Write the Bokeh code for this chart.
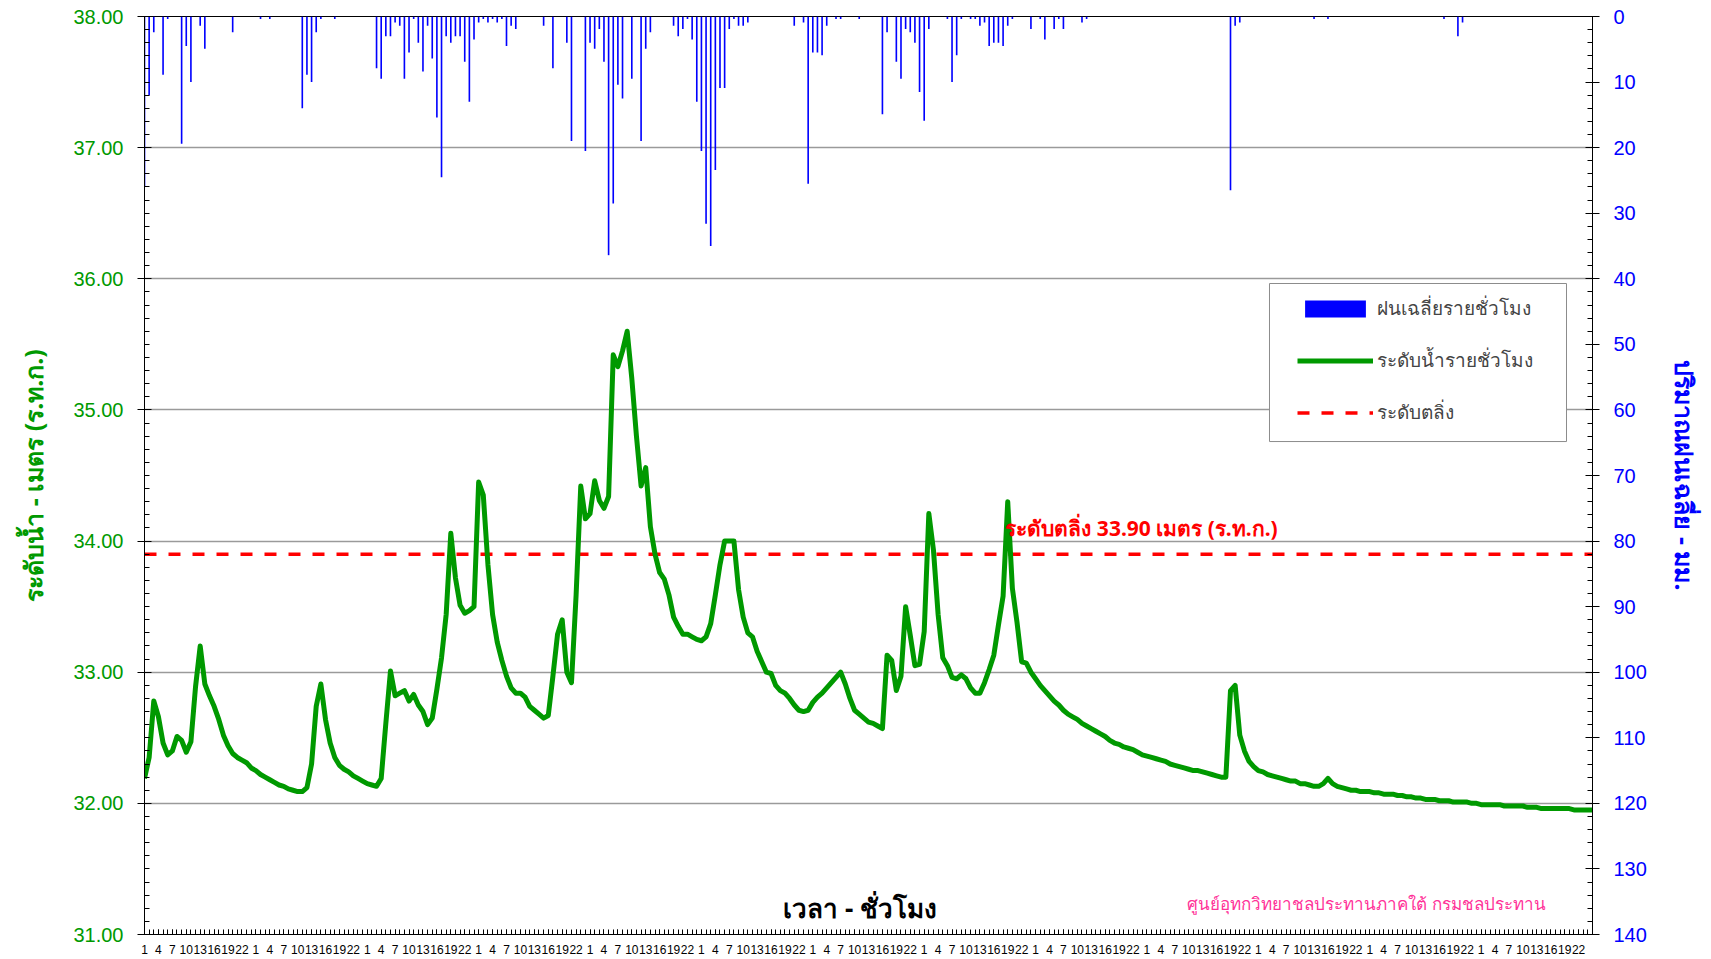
from bokeh.plotting import figure
from bokeh.models import (Range1d, LinearAxis, SingleIntervalTicker, FixedTicker,
                          PrintfTickFormatter, Label, Legend, LegendItem, ColumnDataSource,
                          BoxAnnotation)
from bokeh.embed import file_html
from bokeh.resources import INLINE

# ---------------- data ----------------
# hourly water level (m, MSL) - 13 days x 24 h + closing point
level = [
    32.19, 32.35, 32.78, 32.66, 32.46, 32.37, 32.40, 32.51, 32.48, 32.39, 32.47, 32.89, 33.20, 32.91, 32.82, 32.74, 32.64, 32.52, 32.44, 32.38, 32.35, 32.33, 32.31, 32.27,
    32.25, 32.22, 32.20, 32.18, 32.16, 32.14, 32.13, 32.11, 32.10, 32.09, 32.09, 32.12, 32.30, 32.74, 32.91, 32.64, 32.46, 32.35, 32.29, 32.26, 32.24, 32.21, 32.19, 32.17,
    32.15, 32.14, 32.13, 32.19, 32.61, 33.01, 32.82, 32.84, 32.86, 32.78, 32.83, 32.75, 32.70, 32.60, 32.65, 32.87, 33.11, 33.44, 34.06, 33.72, 33.51, 33.45, 33.47, 33.50,
    34.45, 34.35, 33.82, 33.44, 33.23, 33.09, 32.97, 32.88, 32.84, 32.84, 32.81, 32.74, 32.71, 32.68, 32.65, 32.67, 32.97, 33.29, 33.40, 33.00, 32.92, 33.59, 34.42, 34.17,
    34.21, 34.46, 34.31, 34.25, 34.34, 35.42, 35.33, 35.45, 35.60, 35.24, 34.80, 34.42, 34.56, 34.11, 33.90, 33.76, 33.71, 33.59, 33.42, 33.35, 33.29, 33.29, 33.27, 33.25,
    33.24, 33.27, 33.37, 33.59, 33.82, 34.00, 34.00, 34.00, 33.63, 33.42, 33.30, 33.27, 33.16, 33.08, 33.00, 32.99, 32.90, 32.86, 32.84, 32.80, 32.75, 32.71, 32.70, 32.71,
    32.77, 32.81, 32.84, 32.88, 32.92, 32.96, 33.00, 32.91, 32.80, 32.71, 32.68, 32.65, 32.62, 32.61, 32.59, 32.57, 33.13, 33.09, 32.86, 32.97, 33.50, 33.28, 33.05, 33.06,
    33.31, 34.21, 33.93, 33.44, 33.11, 33.05, 32.96, 32.95, 32.98, 32.95, 32.88, 32.84, 32.84, 32.92, 33.02, 33.13, 33.36, 33.58, 34.30, 33.64, 33.38, 33.08, 33.07, 33.00,
    32.95, 32.90, 32.86, 32.82, 32.78, 32.75, 32.71, 32.68, 32.66, 32.64, 32.61, 32.59, 32.57, 32.55, 32.53, 32.51, 32.48, 32.46, 32.45, 32.43, 32.42, 32.41, 32.39, 32.37,
    32.36, 32.35, 32.34, 32.33, 32.32, 32.30, 32.29, 32.28, 32.27, 32.26, 32.25, 32.25, 32.24, 32.23, 32.22, 32.21, 32.20, 32.20, 32.86, 32.90, 32.52, 32.40, 32.32, 32.28,
    32.25, 32.24, 32.22, 32.21, 32.20, 32.19, 32.18, 32.17, 32.17, 32.15, 32.15, 32.14, 32.13, 32.13, 32.15, 32.19, 32.15, 32.13, 32.12, 32.11, 32.10, 32.10, 32.09, 32.09,
    32.09, 32.08, 32.08, 32.07, 32.07, 32.07, 32.06, 32.06, 32.05, 32.05, 32.04, 32.04, 32.03, 32.03, 32.03, 32.02, 32.02, 32.02, 32.01, 32.01, 32.01, 32.01, 32.00, 32.00,
    31.99, 31.99, 31.99, 31.99, 31.99, 31.98, 31.98, 31.98, 31.98, 31.98, 31.97, 31.97, 31.97, 31.96, 31.96, 31.96, 31.96, 31.96, 31.96, 31.96, 31.95, 31.95, 31.95, 31.95,
    31.95,
]

# hourly average rainfall (mm)
rain = [
    26, 12, 2.4, 0, 8.9, 0.4, 0, 0, 19.4, 4.5, 10, 0, 1.4, 4.9, 0, 0, 0, 0, 0, 2.4, 0, 0, 0, 0,
    0, 0.4, 0, 0.4, 0, 0, 0, 0, 0, 0, 14, 8.9, 10, 2.4, 0.4, 0, 0, 0.4, 0, 0, 0, 0, 0, 0,
    0, 0, 7.9, 9.5, 3.0, 3.0, 0.9, 1.4, 9.5, 5.5, 0.4, 4.0, 8.4, 1.4, 6.4, 15.4, 24.5, 3.0, 4.0, 3.0, 3.0, 6.9, 13, 3.5,
    0.9, 0.4, 0.9, 0.4, 0.9, 0.4, 4.5, 1.4, 1.9, 0, 0, 0, 0, 0, 1.4, 0, 7.9, 0, 0, 4.0, 19, 0, 0, 20.5,
    4.0, 4.9, 1.9, 6.9, 36.4, 28.5, 10.4, 12.5, 0, 9.5, 0, 19, 4.9, 2.4, 0, 0, 0, 0, 1.4, 3.0, 1.9, 0.4, 3.5, 13,
    20.5, 31.6, 35, 23.4, 10.9, 10.9, 1.9, 0.4, 1.4, 1.4, 0.9, 0, 0, 0, 0, 0, 0, 0, 0, 0, 1.4, 0, 0.9, 25.5,
    5.5, 5.5, 5.9, 1.4, 0, 0.4, 0.4, 0, 0, 0, 0.4, 0, 0, 0, 0, 14.9, 2.4, 0, 6.9, 9.5, 1.9, 2.4, 4.0, 11.5,
    15.9, 1.9, 0, 0, 0, 0.4, 10, 5.9, 0.4, 0, 0.4, 0.4, 1.4, 0.9, 4.5, 4.0, 4.0, 4.5, 1.4, 0.4, 0, 0, 0, 1.9,
    0, 0.4, 3.5, 0, 1.9, 0.4, 1.9, 0, 0, 0, 0.9, 0.4, 0, 0, 0, 0, 0, 0, 0, 0, 0, 0, 0, 0,
    0, 0, 0, 0, 0, 0, 0, 0, 0, 0, 0, 0, 0, 0, 0, 0, 0, 0, 26.5, 1.4, 0.9, 0, 0, 0,
    0, 0, 0, 0, 0, 0, 0, 0, 0, 0, 0, 0, 0.4, 0, 0, 0.4, 0, 0, 0, 0, 0, 0, 0, 0,
    0, 0, 0, 0, 0, 0, 0, 0, 0, 0, 0, 0, 0, 0, 0, 0, 0.4, 0, 0, 3.0, 0.9, 0, 0, 0,
    0, 0, 0, 0, 0, 0, 0, 0, 0, 0, 0, 0, 0, 0, 0, 0, 0, 0, 0, 0, 0, 0, 0, 0,
    0,
]

hours = list(range(len(level)))
hour_tick_labels = ["1", "4", "7", "10", "13", "16", "19", "22"]
n_days = 13
threshold = 33.90

GREEN = "#009900"
BLUE = "#0000FF"
RED = "#FF0000"

# ---------------- figure ----------------
p = figure(width=1711, height=958, output_backend="svg", toolbar_location=None,
           x_range=Range1d(hours[0], hours[-1]), y_range=Range1d(31, 38),
           min_border_left=144, min_border_right=119, min_border_top=16,
           min_border_bottom=24, background_fill_color="white",
           border_fill_color="white")
p.extra_y_ranges = {"rain": Range1d(start=140, end=0)}
p.outline_line_color = "black"
p.outline_line_width = 1

p.xgrid.visible = False
p.ygrid.grid_line_color = "#9a9a9a"
p.ygrid.grid_line_width = 1.5

# left axis
ya = p.yaxis[0]
ya.ticker = SingleIntervalTicker(interval=1, num_minor_ticks=10)
ya.formatter = PrintfTickFormatter(format="%.2f")
ya.major_label_text_color = GREEN
ya.major_label_text_font = "Liberation Sans"
ya.major_label_text_font_size = "20px"
ya.major_tick_in = 7
ya.major_tick_out = 7
ya.minor_tick_in = 5
ya.minor_tick_out = 0
ya.major_label_standoff = 14
ya.axis_line_color = "black"
ya.axis_label = "ระดับน้ำ - เมตร (ร.ท.ก.)"
ya.axis_label_text_color = GREEN
ya.axis_label_text_font = "Noto Sans"
ya.axis_label_text_font_style = "bold"
ya.axis_label_text_font_size = "25px"
ya.axis_label_standoff = 20

# right axis
ra = LinearAxis(y_range_name="rain",
                ticker=SingleIntervalTicker(interval=10, num_minor_ticks=5))
ra.major_label_text_color = BLUE
ra.major_label_text_font = "Liberation Sans"
ra.major_label_text_font_size = "20px"
ra.major_tick_in = 7
ra.major_tick_out = 7
ra.minor_tick_in = 5
ra.minor_tick_out = 0
ra.major_label_standoff = 14
ra.axis_line_color = "black"
ra.axis_label = "ปริมาณฝนเฉลี่ย - มม."
ra.axis_label_text_color = BLUE
ra.axis_label_text_font = "Noto Sans"
ra.axis_label_text_font_style = "bold"
ra.axis_label_text_font_size = "25px"
ra.axis_label_standoff = 18
p.add_layout(ra, "right")

# bottom axis: hour of day
major_ticks = [d * 24 + (int(h) - 1) for d in range(n_days) for h in hour_tick_labels]
xa = p.xaxis[0]
xa.ticker = FixedTicker(ticks=major_ticks, minor_ticks=hours)
xa.major_label_overrides = {d * 24 + (int(h) - 1): h for d in range(n_days) for h in hour_tick_labels}
xa.major_label_text_font = "Liberation Sans"
xa.major_label_text_font_size = "12px"
xa.major_label_text_color = "black"
xa.major_label_standoff = 10
xa.major_tick_in = 5
xa.major_tick_out = 0
xa.minor_tick_in = 5
xa.minor_tick_out = 0
xa.axis_line_color = "black"

# ---------------- glyphs ----------------
src = ColumnDataSource(dict(hour=hours, level=level, rain=rain,
                            zero=[0] * len(hours)))
r_rain = p.vbar(x="hour", top="rain", bottom="zero", width=0.35, source=src,
                y_range_name="rain", fill_color=BLUE, line_color=None)
r_thr = p.line(x=[hours[0], hours[-1]], y=[threshold, threshold],
               line_color=RED, line_width=3.5, line_dash="12 12")
r_level = p.line(x="hour", y="level", source=src, line_color=GREEN,
                 line_width=5, line_join="round")

# ---------------- texts ----------------
p.add_layout(Label(x=185.5, y=34.10, text="ระดับตลิ่ง 33.90 เมตร (ร.ท.ก.)",
                   text_color=RED, text_font="Noto Sans", text_font_style="bold",
                   text_font_size="21px", text_baseline="alphabetic",
                   text_align="left"))
p.add_layout(Label(x=154.2, y=31.20, text="เวลา - ชั่วโมง", text_color="black",
                   text_font="Noto Sans", text_font_style="bold",
                   text_font_size="26px", text_baseline="alphabetic",
                   text_align="center"))
p.add_layout(Label(x=224.7, y=31.24, text="ศูนย์อุทกวิทยาชลประทานภาคใต้  กรมชลประทาน",
                   text_color="#FF3399", text_font="Noto Sans",
                   text_font_size="17px", text_baseline="alphabetic",
                   text_align="left"))

# ---------------- legend ----------------
p.add_layout(BoxAnnotation(left=242.4, right=306.4, top=35.964, bottom=34.759,
                           fill_color="white", fill_alpha=1,
                           line_color="#8c8c8c", line_width=1, line_alpha=1))
legend = Legend(items=[LegendItem(label="ฝนเฉลี่ยรายชั่วโมง", renderers=[r_rain]),
                       LegendItem(label="ระดับน้ำรายชั่วโมง", renderers=[r_level]),
                       LegendItem(label="ระดับตลิ่ง", renderers=[r_thr])],
                location=(1153, 507), glyph_width=76, glyph_height=21,
                label_standoff=4, label_text_font="Noto Sans",
                label_text_font_size="19px", label_height=24, label_width=160,
                spacing=22, padding=10, margin=0,
                border_line_color=None,
                background_fill_color="white", background_fill_alpha=0)
p.add_layout(legend)

open("out.html", "w").write(file_html(p, INLINE))
